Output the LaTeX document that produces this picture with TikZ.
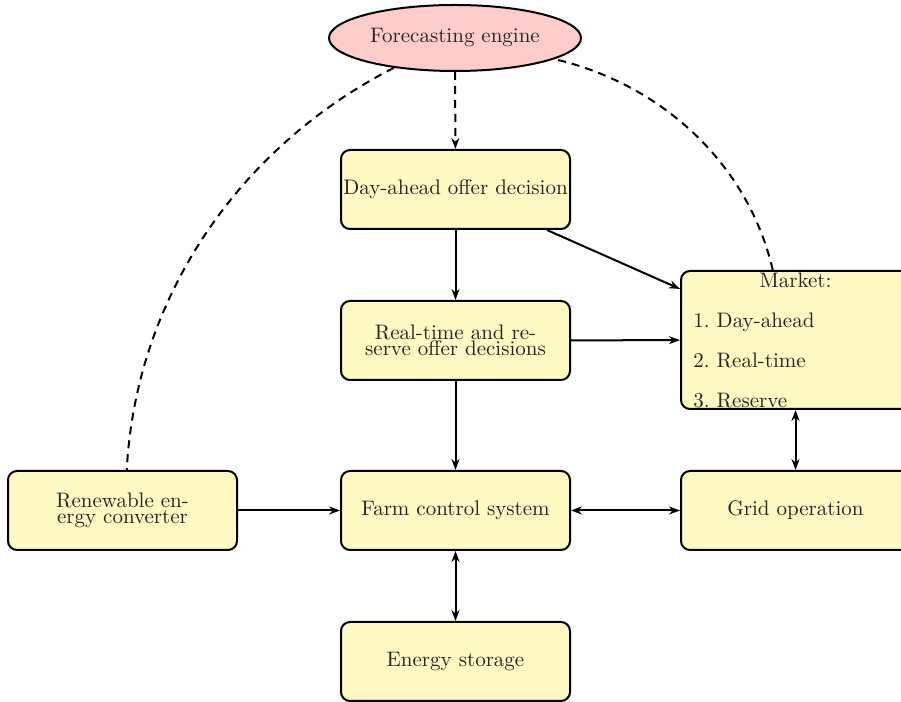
\documentclass[tikz,border=0pt]{standalone}
\usetikzlibrary{shapes.geometric,arrows.meta}
\definecolor{boxfill}{RGB}{255,249,196}
\definecolor{ellfill}{RGB}{255,204,204}
\definecolor{txt}{RGB}{35,35,35}
\begin{document}
\begin{tikzpicture}[x=0.5pt,y=0.5pt,
  box/.style={draw=black, line width=1pt, rounded corners=4.5pt, fill=boxfill,
    minimum width=114.5pt, minimum height=39.5pt, align=center, inner sep=0pt,
    font=\fontsize{10.5}{8.2}\selectfont, text=txt},
  ell/.style={ellipse, draw=black, line width=1pt, fill=ellfill, minimum width=126pt,
    minimum height=33pt, inner sep=0pt, font=\fontsize{10.5}{8.2}\selectfont, text=txt},
  lbl/.style={inner sep=0pt, font=\fontsize{10.5}{8.2}\selectfont, text=txt},
  arr/.style={line width=1pt, -{Stealth[length=5.5pt,width=4pt]}},
  darr/.style={line width=1pt, {Stealth[length=5.5pt,width=4pt]}-{Stealth[length=5.5pt,width=4pt]}},
  dline/.style={line width=1pt, dash pattern=on 4pt off 3pt}]
\useasboundingbox (0,0) rectangle (901,702);
% nodes
\node[ell] (fe) at (455,664) {Forecasting engine};
\node[box] (da) at (455.5,512.5) {Day-ahead offer decision};
\node[box] (rt) at (455.5,361.5) {Real-time and re-\\serve offer decisions};
\node[box] (farm) at (455.5,191.5) {Farm control system};
\node[box] (es) at (455.5,40.5) {Energy storage};
\node[box] (ren) at (122.5,191.5) {Renewable en-\\ergy converter};
\node[box] (grid) at (795.5,191.5) {Grid operation};
\node[box, minimum height=69pt] (market) at (795.5,362) {};
\node[lbl, anchor=base] (mk0) at (795.5,414) {Market:};
\node[lbl, anchor=base west] (mk1) at (693,374) {1.\ Day-ahead};
\node[lbl, anchor=base west] (mk2) at (693,334) {2.\ Real-time};
\node[lbl, anchor=base west] (mk3) at (693,294) {3.\ Reserve};
% connectors
\draw[dline, -{Stealth[length=5.5pt,width=4pt]}] (fe) -- (da);
\draw[arr] (da) -- (rt);
\draw[arr] (da) -- (market);
\draw[arr] (rt) -- (market);
\draw[arr] (rt) -- (farm);
\draw[arr] (ren) -- (farm);
\draw[darr] (farm) -- (grid);
\draw[darr] (market) -- (grid);
\draw[darr] (farm) -- (es);
\draw[dline] (fe.206) to[out=207, in=87, looseness=0.92] (ren.84);
\draw[dline] (market.108) to[out=103, in=-13, looseness=0.92] (fe.-12);
\end{tikzpicture}
\end{document}
